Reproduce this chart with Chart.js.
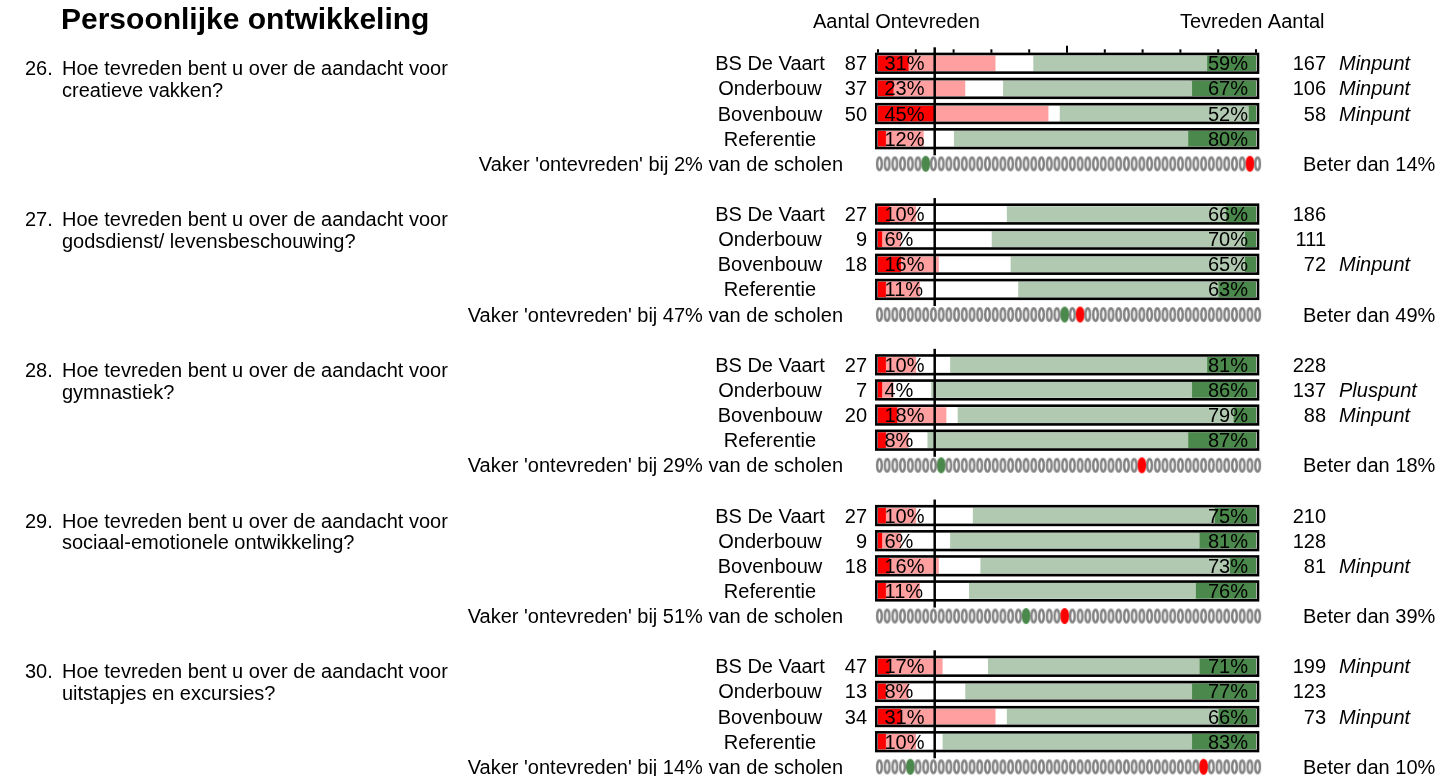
<!DOCTYPE html>
<html>
<head>
<meta charset="utf-8">
<script src="https://cdn.jsdelivr.net/npm/chart.js@4.4.1/dist/chart.umd.min.js"></script>
<style>
  html, body { margin: 0; padding: 0; background: #fff; overflow: hidden; }
  #chart { display: block; }
</style>
</head>
<body>
<canvas id="chart" width="1439" height="800"></canvas>
<script>
const title = 'Persoonlijke ontwikkeling';
const headLeft = 'Aantal Ontevreden';
const headRight = 'Tevreden Aantal';
const questionNumbers = ['26.', '27.', '28.', '29.', '30.'];
const questionLines = [
    ['Hoe tevreden bent u over de aandacht voor', 'creatieve vakken?'],
    ['Hoe tevreden bent u over de aandacht voor', 'godsdienst/ levensbeschouwing?'],
    ['Hoe tevreden bent u over de aandacht voor', 'gymnastiek?'],
    ['Hoe tevreden bent u over de aandacht voor', 'sociaal-emotionele ontwikkeling?'],
    ['Hoe tevreden bent u over de aandacht voor', 'uitstapjes en excursies?']
];
const groupNames = ['BS De Vaart', 'Onderbouw', 'Bovenbouw', 'Referentie'];

// percentages per row (4 rows per question), left to right in the bar
const veryUnhappy = [8, 4, 15, 2,  3, 1, 6, 2,  2, 1, 5, 2,  2, 1, 3, 2,  3, 2, 6, 2];
const unhappy     = [23, 19, 30, 10,  7, 5, 10, 9,  8, 3, 13, 6,  8, 5, 13, 9,  14, 6, 25, 8];
const neutral     = [10, 10, 3, 8,  24, 24, 19, 26,  9, 10, 3, 5,  15, 13, 11, 13,  12, 15, 3, 7];
const happy       = [46, 50, 50, 62,  58, 67, 62, 53,  68, 69, 73, 69,  64, 66, 66, 60,  56, 60, 56, 66];
const veryHappy   = [13, 17, 2, 18,  8, 3, 3, 10,  13, 17, 6, 18,  11, 15, 7, 16,  15, 17, 10, 17];

const countUnhappy = [87, 37, 50, null,  27, 9, 18, null,  27, 7, 20, null,  27, 9, 18, null,  47, 13, 34, null];
const countHappy   = [167, 106, 58, null,  186, 111, 72, null,  228, 137, 88, null,  210, 128, 81, null,  199, 123, 73, null];
const remarks = ['Minpunt', 'Minpunt', 'Minpunt', '',  '', '', 'Minpunt', '',  '', 'Pluspunt', 'Minpunt', '',
                 '', '', 'Minpunt', '',  'Minpunt', '', 'Minpunt', ''];

const vakerPct = [2, 47, 29, 51, 14];
const beterPct = [14, 49, 18, 39, 10];
const greenDot = [7, 25, 9, 20, 5];
const redDot = [49, 27, 35, 25, 43];
const dotCount = 50;
const normLine = 15;
const xTicks = [0, 10, 20, 30, 40, 50, 60, 70, 80, 90, 100];

const FONT = '"Liberation Sans", Arial, sans-serif';
const segColors = ['#ff0000', '#ff9f9f', '#ffffff', '#b1c9b1', '#4b884b'];

// one category per row: 4 bars, the dots row and a gap per question
const rowKeys = [];
const barRow = [];
const dotRow = [];
questionNumbers.forEach((q, g) => {
    groupNames.forEach(n => { barRow.push(rowKeys.length); rowKeys.push(q + n); });
    dotRow.push(rowKeys.length);
    rowKeys.push(q + 'dots');
    if (g < questionNumbers.length - 1) rowKeys.push(q + 'gap');
});

function spread(values) {
    const out = rowKeys.map(() => null);
    values.forEach((v, k) => { out[barRow[k]] = v; });
    return out;
}

function oval(w, h, color, filled) {
    const c = document.createElement('canvas');
    c.width = w + 4;
    c.height = h + 4;
    const g = c.getContext('2d');
    g.beginPath();
    if (filled) {
        g.ellipse(c.width / 2, c.height / 2, w / 2, h / 2, 0, 0, Math.PI * 2);
        g.fillStyle = color;
        g.fill();
    } else {
        g.ellipse(c.width / 2, c.height / 2, w / 2 - 1.2, h / 2 - 1.2, 0, 0, Math.PI * 2);
        g.strokeStyle = color;
        g.lineWidth = 2.4;
        g.stroke();
    }
    return c;
}

const greyPts = [], greenPts = [], redPts = [];
dotRow.forEach((row, g) => {
    for (let p = 1; p <= dotCount; p++) {
        const pt = { x: p, y: rowKeys[row] };
        if (p === greenDot[g]) greenPts.push(pt);
        else if (p === redDot[g]) redPts.push(pt);
        else greyPts.push(pt);
    }
});

const segments = [veryUnhappy, unhappy, neutral, happy, veryHappy];
const datasets = segments.map((vals, i) => ({
    type: 'bar',
    data: spread(vals),
    backgroundColor: segColors[i],
    barThickness: 15,
    borderWidth: 0,
    xAxisID: 'x',
    yAxisID: 'y'
}));

const dotStyle = (pts, style) => ({
    type: 'scatter',
    data: pts,
    xAxisID: 'x2',
    yAxisID: 'y',
    pointStyle: style,
    pointRadius: 5,
    clip: false
});
datasets.push(dotStyle(greyPts, oval(7, 15, '#828282', false)));
datasets.push(dotStyle(greenPts, oval(9, 16, '#4b884b', true)));
datasets.push(dotStyle(redPts, oval(9, 16, '#ff0000', true)));

const overlay = {
    id: 'overlay',
    afterDatasetsDraw(chart) {
        const { ctx, scales: { x, y } } = chart;
        ctx.save();
        ctx.fillStyle = '#000';
        ctx.strokeStyle = '#000';

        // boxes round the bars
        ctx.lineWidth = 2.6;
        const x0 = x.getPixelForValue(0);
        const x1 = x.getPixelForValue(100);
        barRow.forEach(row => {
            const cy = y.getPixelForValue(row);
            ctx.strokeRect(x0 - 1.7, cy - 9.35, x1 - x0 + 3.7, 18.7);
        });

        // norm line per question
        ctx.lineWidth = 2.5;
        const xn = x.getPixelForValue(normLine);
        questionNumbers.forEach((q, g) => {
            const top = y.getPixelForValue(barRow[g * 4]) - 16;
            const bottom = y.getPixelForValue(dotRow[g]) - 8.5;
            ctx.beginPath();
            ctx.moveTo(xn, top);
            ctx.lineTo(xn, bottom);
            ctx.stroke();
        });

        // ticks above the first bar
        ctx.lineWidth = 2;
        const tickBase = y.getPixelForValue(barRow[0]) - 10.5;
        xTicks.forEach(v => {
            const tx = x.getPixelForValue(v);
            ctx.beginPath();
            ctx.moveTo(tx, tickBase);
            ctx.lineTo(tx, v === 50 ? tickBase - 7 : tickBase - 3.5);
            ctx.stroke();
        });

        // texts
        ctx.font = 'bold 30px ' + FONT;
        ctx.textAlign = 'left';
        ctx.fillText(title, 61, 29);
        ctx.font = '20px ' + FONT;
        ctx.fillText(headLeft, 813, 28);
        ctx.fillText(headRight, 1180, 28);

        questionNumbers.forEach((q, g) => {
            const cy = y.getPixelForValue(barRow[g * 4]);
            ctx.textAlign = 'left';
            ctx.fillText(q, 25, cy + 12);
            questionLines[g].forEach((line, i) => {
                ctx.fillText(line, 62, cy + 12 + i * 21.7);
            });
            const dy = y.getPixelForValue(dotRow[g]) + 7;
            ctx.textAlign = 'right';
            ctx.fillText("Vaker 'ontevreden' bij " + vakerPct[g] + '% van de scholen', 843, dy);
            ctx.textAlign = 'left';
            ctx.fillText('Beter dan ' + beterPct[g] + '%', 1303, dy);
        });

        barRow.forEach((row, k) => {
            const by = y.getPixelForValue(row) + 7;
            ctx.font = '20px ' + FONT;
            ctx.textAlign = 'center';
            ctx.fillText(groupNames[k % 4], 770, by);
            ctx.textAlign = 'right';
            if (countUnhappy[k] !== null) ctx.fillText(String(countUnhappy[k]), 867, by);
            if (countHappy[k] !== null) ctx.fillText(String(countHappy[k]), 1326, by);
            ctx.fillText((happy[k] + veryHappy[k]) + '%', 1248, by);
            ctx.textAlign = 'left';
            ctx.fillText((veryUnhappy[k] + unhappy[k]) + '%', 884.5, by);
            if (remarks[k]) {
                ctx.font = 'italic 20px ' + FONT;
                ctx.fillText(remarks[k], 1339, by);
            }
        });
        ctx.restore();
    }
};

new Chart(document.getElementById('chart'), {
    type: 'bar',
    data: { labels: rowKeys, datasets: datasets },
    options: {
        indexAxis: 'y',
        responsive: false,
        animation: false,
        events: [],
        layout: { padding: { left: 878, right: 183, top: 50.74, bottom: 20.63 } },
        scales: {
            x: { type: 'linear', axis: 'x', min: 0, max: 100, stacked: true, display: false },
            x2: { type: 'linear', axis: 'x', min: 0.82, max: 49.79, display: false },
            y: { type: 'category', labels: rowKeys, stacked: true, offset: true, display: false }
        },
        plugins: { legend: { display: false }, tooltip: { enabled: false } }
    },
    plugins: [overlay]
});
</script>
</body>
</html>
